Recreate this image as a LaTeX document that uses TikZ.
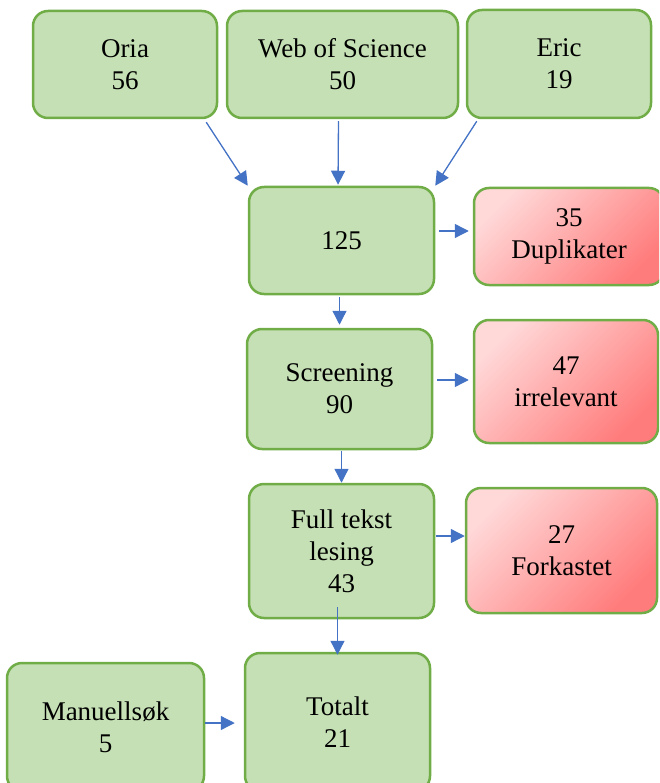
\documentclass[tikz,border=0pt]{standalone}
\usepackage{fontspec}
\setmainfont{Liberation Serif}
\usetikzlibrary{positioning, calc, arrows.meta}
\definecolor{boxGreen}{HTML}{C5E0B4}
\definecolor{boxEdge}{HTML}{70AD47}
\definecolor{flowBlue}{HTML}{4472C4}
\definecolor{redLight}{HTML}{FFD8D8}
\definecolor{redDark}{HTML}{FF7C7C}
\tikzstyle{stageBox}=[draw=boxEdge, line width=2.5pt, rounded corners=15pt, fill=boxGreen, align=center, inner sep=0pt, font=\fontsize{27}{32}\selectfont]
\tikzstyle{dropBox}=[stageBox, top color=redLight, bottom color=redDark, shading angle=45]
\tikzstyle{flow}=[-{Triangle[length=14pt,width=14pt]}, draw=flowBlue, fill=flowBlue, line width=1.3pt]

\begin{document}
\begin{tikzpicture}[x=1pt, y=-1pt]
        \useasboundingbox (0,0) rectangle (659,783);
        \clip (0,0) rectangle (659,783);

        % sources
        \node[stageBox, minimum width=184pt, minimum height=107pt] (oria) at (125, 64.5) {Oria\\56};
        \node[stageBox, minimum width=231pt, minimum height=107pt] (wos) at (342.5, 64.5) {Web of Science\\50};
        \node[stageBox, minimum width=184pt, minimum height=108pt] (eric) at (559, 64) {Eric\\19};

        % screening steps
        \node[stageBox, minimum width=185pt, minimum height=107pt] (all) at (341.5, 240.5) {125};
        \node[stageBox, minimum width=185pt, minimum height=120pt] (screen) at (339.5, 389) {Screening\\90};
        \node[stageBox, minimum width=185pt, minimum height=134pt] (full) at (341.5, 551) {Full tekst\\lesing\\43};
        \node[stageBox, minimum width=185pt, minimum height=138pt] (total) at (337.5, 722) {Totalt\\21};
        \node[stageBox, minimum width=197pt, minimum height=128pt] (manual) at (105.5, 727) {Manuellsøk\\5};

        % removed
        \node[dropBox, minimum width=190pt, minimum height=97pt] (dupl) at (569, 236.5) {35\\Duplikater};
        \node[dropBox, minimum width=184pt, minimum height=123pt] (irrel) at (566, 381.5) {47\\irrelevant};
        \node[dropBox, minimum width=191pt, minimum height=125pt] (reject) at (561.5, 550.5) {27\\Forkastet};

        \draw[flow] ([shift={(-12,3)}]oria.south east) -- (all.north west);
        \draw[flow, shorten <=2pt, shorten >=1pt] ([xshift=-4pt]wos.south) -- ([xshift=-3.5pt]all.north);
        \draw[flow] ([shift={(11,2)}]eric.south west) -- (all.north east);

        \draw[flow, shorten >=4pt] ([shift={(4,-9.5)}]all.east) coordinate (c1) -- (c1 -| dupl.west);
        \draw[flow, shorten >=4pt] ([shift={(4,-9)}]screen.east) coordinate (c2) -- (c2 -| irrel.west);
        \draw[flow] ([shift={(1,-15)}]full.east) coordinate (c3) -- (c3 -| reject.west);
        \draw[flow, shorten >=9pt] ([shift={(0,-4)}]manual.east) coordinate (c4) -- (c4 -| total.west);

        \draw[flow, shorten <=2pt, shorten >=3pt] (all.south -| screen.north) -- (screen.north);
        \draw[flow, shorten <=1pt] (screen.south -| full.north) -- (full.north);
        \draw[flow, shorten >=-3pt] ([yshift=12pt]full.south -| total.north) -- (total.north);

    \end{tikzpicture}
\end{document}
